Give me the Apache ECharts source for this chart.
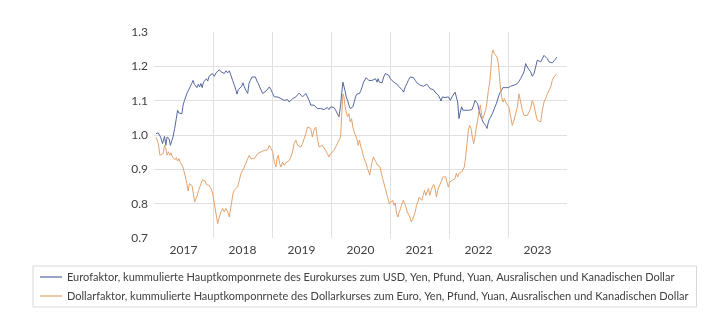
<!DOCTYPE html>
<html><head><meta charset="utf-8">
<script src="https://cdn.jsdelivr.net/npm/echarts@6/dist/echarts.min.js"></script>
<style>html,body{margin:0;padding:0;background:#fff}#c{width:720px;height:336px}</style>
</head><body><div id="c"></div>
<script>
const yearLabels = ['2017','2018','2019','2020','2021','2022','2023'];
const yTicks = [0.7, 0.8, 0.9, 1.0, 1.1, 1.2, 1.3];
const euroName = 'Eurofaktor, kummulierte Hauptkomponrnete des Eurokurses zum USD, Yen, Pfund, Yuan, Ausralischen und Kanadischen Dollar';
const dollarName = 'Dollarfaktor, kummulierte Hauptkomponrnete des Dollarkurses zum Euro, Yen, Pfund, Yuan, Ausralischen und Kanadischen Dollar';

const euroTime = [2017.033,2017.072,2017.111,2017.144,2017.178,2017.200,2017.222,2017.256,2017.278,2017.300,2017.322,2017.350,2017.378,2017.400,2017.422,2017.450,2017.472,2017.494,2017.517,2017.544,2017.567,2017.589,2017.611,2017.639,2017.661,2017.683,2017.706,2017.728,2017.750,2017.772,2017.794,2017.817,2017.839,2017.861,2017.889,2017.911,2017.933,2017.961,2017.989,
2018.023,2018.051,2018.079,2018.107,2018.136,2018.164,2018.192,2018.220,2018.249,2018.277,2018.305,2018.333,2018.362,2018.390,2018.407,2018.429,2018.458,2018.486,2018.508,2018.531,2018.559,2018.588,2018.610,2018.633,2018.661,2018.689,2018.718,2018.746,2018.768,2018.791,2018.814,2018.842,2018.870,2018.898,2018.927,2018.955,2018.983,2019.011,
2019.040,2019.084,2019.118,2019.152,2019.180,2019.208,2019.236,2019.264,2019.292,2019.320,2019.348,2019.376,2019.404,2019.433,2019.461,2019.489,2019.517,2019.545,2019.573,2019.601,2019.629,2019.657,2019.685,2019.713,2019.742,2019.770,2019.798,2019.826,2019.854,2019.882,2019.910,2019.938,2019.966,2019.994,
2020.022,2020.051,2020.079,2020.107,2020.135,2020.163,2020.180,2020.202,2020.219,2020.236,2020.258,2020.281,2020.303,2020.326,2020.348,2020.371,2020.393,2020.416,2020.438,2020.461,2020.483,2020.506,2020.528,2020.551,2020.573,2020.596,2020.618,2020.640,2020.669,2020.697,2020.725,2020.753,2020.781,2020.798,2020.820,2020.843,2020.865,2020.893,2020.921,2020.949,2020.978,2021.006,
2021.034,2021.062,2021.090,2021.118,2021.146,2021.174,2021.202,2021.230,2021.258,2021.287,2021.315,2021.343,2021.371,2021.399,2021.427,2021.455,2021.483,2021.511,2021.539,2021.567,2021.596,2021.624,2021.652,2021.680,2021.708,2021.736,2021.764,2021.792,2021.820,2021.848,2021.865,2021.888,2021.910,2021.933,2021.961,2021.989,
2022.023,2022.051,2022.079,2022.102,2022.124,2022.147,2022.169,2022.192,2022.215,2022.237,2022.260,2022.282,2022.305,2022.333,2022.362,2022.390,2022.418,2022.441,2022.463,2022.486,2022.508,2022.531,2022.554,2022.576,2022.599,2022.621,2022.644,2022.667,2022.689,2022.712,2022.734,2022.757,2022.780,2022.802,2022.825,2022.847,2022.870,2022.893,2022.915,2022.938,2022.960,2022.983,2023.011,
2023.045,2023.073,2023.102,2023.130,2023.158,2023.186,2023.215,2023.243,2023.271,2023.299,2023.328,2023.356,2023.384,2023.412,2023.441,2023.469,2023.497,2023.525,2023.554,2023.582,2023.610,2023.638,2023.667,2023.695,2023.723,2023.751,2023.780,2023.808,2023.825];
const euroValue = [1.004,1.006,0.994,0.975,0.996,0.970,0.994,0.989,0.970,0.970,0.994,1.019,1.048,1.072,1.064,1.067,1.062,1.087,1.101,1.106,1.125,1.132,1.130,1.150,1.159,1.148,1.152,1.138,1.148,1.140,1.150,1.138,1.154,1.159,1.164,1.157,1.171,1.169,1.179,
1.171,1.181,1.177,1.190,1.184,1.188,1.179,1.187,1.181,1.187,1.184,1.159,1.145,1.130,1.119,1.132,1.128,1.142,1.152,1.140,1.130,1.121,1.150,1.159,1.169,1.174,1.169,1.157,1.150,1.140,1.135,1.121,1.122,1.128,1.130,1.140,1.132,1.121,
1.111,1.111,1.109,1.106,1.109,1.101,1.099,1.103,1.096,1.101,1.106,1.101,1.111,1.113,1.122,1.119,1.111,1.116,1.121,1.111,1.101,1.087,1.089,1.087,1.082,1.077,1.072,1.077,1.080,1.074,1.077,1.080,1.074,1.082,
1.082,1.080,1.072,1.067,1.053,1.087,1.120,1.154,1.150,1.130,1.111,1.101,1.087,1.077,1.072,1.082,1.096,1.111,1.119,1.116,1.121,1.130,1.140,1.154,1.159,1.167,1.164,1.159,1.164,1.159,1.154,1.164,1.154,1.164,1.154,1.154,1.152,1.169,1.179,1.179,1.174,1.164,
1.159,1.154,1.152,1.148,1.142,1.138,1.132,1.125,1.140,1.150,1.161,1.169,1.174,1.167,1.159,1.152,1.148,1.145,1.150,1.142,1.140,1.148,1.142,1.135,1.130,1.132,1.125,1.128,1.116,1.106,1.099,1.111,1.106,1.109,1.106,1.111,
1.101,1.111,1.116,1.125,1.111,1.096,1.048,1.067,1.082,1.072,1.077,1.072,1.067,1.072,1.067,1.074,1.087,1.101,1.106,1.091,1.072,1.057,1.048,1.038,1.043,1.028,1.019,1.038,1.048,1.054,1.062,1.067,1.082,1.091,1.096,1.116,1.125,1.122,1.138,1.135,1.138,1.142,1.138,
1.142,1.138,1.145,1.142,1.150,1.154,1.164,1.169,1.184,1.208,1.198,1.190,1.184,1.171,1.179,1.198,1.218,1.222,1.213,1.222,1.232,1.229,1.222,1.213,1.216,1.210,1.216,1.222,1.227];

const dollarTime = [2017.033,2017.056,2017.078,2017.100,2017.128,2017.156,2017.178,2017.200,2017.222,2017.244,2017.267,2017.289,2017.311,2017.333,2017.356,2017.378,2017.400,2017.422,2017.444,2017.467,2017.489,2017.511,2017.533,2017.556,2017.578,2017.600,2017.622,2017.644,2017.667,2017.689,2017.711,2017.733,2017.756,2017.778,2017.800,2017.822,2017.844,2017.867,2017.889,2017.911,2017.933,2017.956,2017.978,2018.000,
2018.023,2018.051,2018.079,2018.107,2018.136,2018.164,2018.192,2018.220,2018.249,2018.277,2018.294,2018.316,2018.339,2018.362,2018.390,2018.418,2018.446,2018.475,2018.503,2018.531,2018.559,2018.588,2018.616,2018.644,2018.672,2018.701,2018.729,2018.757,2018.785,2018.814,2018.842,2018.870,2018.898,2018.927,2018.955,2018.983,2019.011,
2019.039,2019.067,2019.084,2019.107,2019.129,2019.152,2019.180,2019.208,2019.236,2019.264,2019.292,2019.320,2019.348,2019.376,2019.404,2019.433,2019.461,2019.489,2019.517,2019.545,2019.573,2019.601,2019.629,2019.657,2019.685,2019.713,2019.742,2019.770,2019.798,2019.826,2019.854,2019.882,2019.910,2019.938,2019.966,2019.994,
2020.022,2020.051,2020.079,2020.107,2020.135,2020.163,2020.180,2020.202,2020.219,2020.236,2020.258,2020.281,2020.303,2020.326,2020.348,2020.371,2020.393,2020.416,2020.438,2020.461,2020.483,2020.506,2020.528,2020.551,2020.573,2020.596,2020.618,2020.640,2020.657,2020.674,2020.697,2020.719,2020.742,2020.764,2020.787,2020.809,2020.831,2020.854,2020.876,2020.899,2020.921,2020.944,2020.966,2020.989,2021.011,
2021.022,2021.045,2021.067,2021.090,2021.112,2021.135,2021.157,2021.180,2021.202,2021.225,2021.247,2021.270,2021.292,2021.315,2021.337,2021.360,2021.382,2021.404,2021.427,2021.449,2021.472,2021.494,2021.517,2021.539,2021.562,2021.584,2021.607,2021.629,2021.652,2021.674,2021.697,2021.719,2021.742,2021.764,2021.787,2021.809,2021.831,2021.854,2021.876,2021.899,2021.921,2021.944,2021.966,2021.989,
2022.011,2022.034,2022.056,2022.079,2022.102,2022.124,2022.147,2022.169,2022.192,2022.215,2022.237,2022.260,2022.282,2022.305,2022.328,2022.350,2022.373,2022.395,2022.418,2022.441,2022.463,2022.486,2022.508,2022.531,2022.554,2022.576,2022.599,2022.621,2022.644,2022.667,2022.689,2022.712,2022.729,2022.746,2022.768,2022.791,2022.814,2022.836,2022.847,2022.870,2022.893,2022.915,2022.938,2022.960,2022.989,
2023.017,2023.045,2023.073,2023.102,2023.130,2023.158,2023.186,2023.215,2023.243,2023.271,2023.299,2023.328,2023.356,2023.384,2023.412,2023.441,2023.469,2023.497,2023.525,2023.554,2023.582,2023.610,2023.638,2023.667,2023.695,2023.723,2023.751,2023.780,2023.797,2023.819];
const dollarValue = [0.994,0.985,0.970,0.941,0.941,0.946,0.970,0.960,0.941,0.951,0.941,0.948,0.936,0.941,0.928,0.934,0.924,0.931,0.921,0.924,0.907,0.902,0.878,0.858,0.837,0.858,0.863,0.853,0.829,0.805,0.800,0.824,0.839,0.849,0.860,0.870,0.873,0.866,0.856,0.856,0.853,0.849,0.840,0.825,
0.800,0.771,0.742,0.761,0.776,0.786,0.776,0.786,0.776,0.761,0.766,0.805,0.829,0.839,0.844,0.849,0.868,0.888,0.897,0.907,0.912,0.931,0.941,0.931,0.926,0.931,0.936,0.946,0.941,0.951,0.946,0.955,0.951,0.957,0.970,0.975,0.951,
0.921,0.907,0.931,0.941,0.917,0.907,0.921,0.912,0.919,0.921,0.926,0.936,0.951,0.975,0.985,0.970,0.970,0.965,0.975,0.980,1.004,1.023,1.023,1.019,0.994,1.014,1.023,0.989,0.965,0.970,0.970,0.965,0.955,0.946,0.936,0.946,
0.946,0.955,0.965,0.975,0.985,0.994,1.053,1.120,1.111,1.087,1.067,1.053,1.062,1.038,1.048,1.023,1.009,1.004,0.989,0.970,0.985,0.965,0.955,0.936,0.926,0.917,0.902,0.892,0.883,0.902,0.921,0.936,0.931,0.921,0.912,0.917,0.907,0.888,0.873,0.858,0.844,0.829,0.815,0.800,0.802,
0.805,0.810,0.795,0.802,0.771,0.761,0.776,0.786,0.800,0.810,0.800,0.790,0.776,0.776,0.761,0.747,0.753,0.756,0.776,0.795,0.805,0.819,0.824,0.810,0.824,0.839,0.824,0.834,0.844,0.824,0.839,0.849,0.856,0.844,0.819,0.839,0.849,0.853,0.868,0.878,0.883,0.878,0.863,0.848,
0.863,0.858,0.868,0.863,0.873,0.888,0.878,0.888,0.883,0.892,0.897,0.907,0.936,0.975,1.014,1.028,1.019,0.994,0.975,0.994,1.023,1.043,1.067,1.087,1.057,1.048,1.053,1.072,1.096,1.130,1.150,1.198,1.237,1.247,1.237,1.242,1.227,1.208,1.188,1.140,1.111,1.096,1.106,1.096,1.101,
1.081,1.053,1.028,1.043,1.062,1.081,1.120,1.096,1.072,1.057,1.062,1.057,1.067,1.077,1.101,1.087,1.062,1.043,1.048,1.038,1.072,1.096,1.106,1.120,1.130,1.140,1.159,1.169,1.164,1.177];

const euroData = euroTime.map((t, i) => [t, euroValue[i]]);
const dollarData = dollarTime.map((t, i) => [t, dollarValue[i]]);

const chart = echarts.init(document.getElementById('c'), null, {renderer: 'canvas'});
const font = 'Lato, "Liberation Sans", sans-serif';
chart.setOption({
  animation: false,
  backgroundColor: '#ffffff',
  textStyle: {fontFamily: font},
  grid: {left: 154, right: 153, top: 32, bottom: 98, containLabel: false},
  xAxis: [
    {type: 'category', data: yearLabels, boundaryGap: true, position: 'bottom',
     axisLine: {show: false}, axisTick: {show: false}, splitLine: {show: false},
     axisLabel: {color: '#404040', fontSize: 12, margin: 6, fontFamily: font}},
    {type: 'value', min: 2017, max: 2024, interval: 1, position: 'bottom',
     axisLine: {show: false}, axisTick: {show: false}, axisLabel: {show: false},
     splitLine: {show: true, showMinLine: false, showMaxLine: false, lineStyle: {color: '#e0e0e0', width: 1}}}
  ],
  yAxis: {type: 'value', min: yTicks[0], max: yTicks[yTicks.length - 1], interval: 0.1,
    axisLine: {show: false}, axisTick: {show: false},
    axisLabel: {color: '#404040', fontSize: 12, margin: 6, fontFamily: font, formatter: v => v.toFixed(1)},
    splitLine: {show: true, showMinLine: false, showMaxLine: false, lineStyle: {color: '#e0e0e0', width: 1}}},
  legend: {
    orient: 'vertical', left: 33, top: 266,
    data: [euroName, dollarName],
    icon: 'rect', itemWidth: 22, itemHeight: 1.2, itemGap: 5,
    padding: [4, 8, 4, 7],
    borderColor: '#d9d9d9', borderWidth: 1,
    textStyle: {color: '#404040', fontSize: 11, lineHeight: 14, fontFamily: font, padding: [0, 0, 0, 0]}
  },
  series: [
    {name: euroName, type: 'line', xAxisIndex: 1, data: euroData, showSymbol: false, symbol: 'none',
     lineStyle: {color: '#5567a0', width: 1}, itemStyle: {color: '#5567a0'}},
    {name: dollarName, type: 'line', xAxisIndex: 1, data: dollarData, showSymbol: false, symbol: 'none',
     lineStyle: {color: '#e4a36c', width: 1}, itemStyle: {color: '#e4a36c'}}
  ]
});
</script></body></html>
